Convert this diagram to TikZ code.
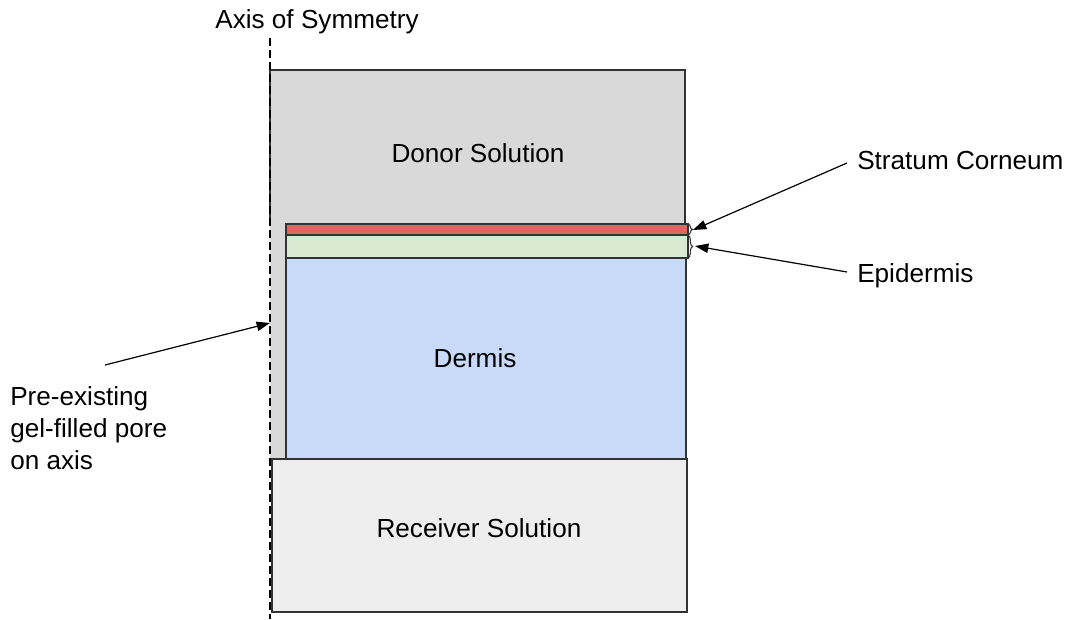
\documentclass[tikz,border=0pt]{standalone}
\usepackage{fontspec}
\setmainfont{Liberation Sans}
\usetikzlibrary{fit,arrows.meta,decorations.pathreplacing}
\definecolor{donorc}{HTML}{D9D9D9}
\definecolor{recvc}{HTML}{EEEEEE}
\definecolor{scc}{HTML}{E06666}
\definecolor{epic}{HTML}{D9EAD3}
\definecolor{dermc}{HTML}{C9DAF8}
\definecolor{edge}{HTML}{333333}
\begin{document}
\begin{tikzpicture}[x=0.75pt,y=-0.75pt,
  region/.style={inner sep=0pt, outer sep=0pt},
  boxed/.style={region, draw=edge, line width=1.1pt},
  lab/.style={font=\fontsize{19.6}{24}\selectfont, text=black},
  brc/.style={draw=edge, line width=0.8pt, decorate, decoration={brace, amplitude=3.5pt}},
  arr/.style={draw=black, line width=0.9pt, -{Triangle[length=10pt,width=7pt]}},
  axisline/.style={draw=black, line width=0.9pt, dash pattern=on 6pt off 3pt}]
\useasboundingbox (0,0) rectangle (1069,619);
% donor solution (border drawn separately, no left bottom edge)
\node[region, fill=donorc, fit={(270,70)(685,224)}] (donor) {};
\draw[edge, line width=1.1pt] (donor.south west) -- (donor.north west) -- (donor.north east) -- (donor.south east);
% gel-filled pore
\node[region, fill=donorc, fit={(270,224)(286,459)}] (pore) {};
% skin layers
\node[boxed, fill=scc, fit={(286,224)(688,235)}] (sc) {};
\node[boxed, fill=epic, fit={(286,235)(688,258)}] (epi) {};
\node[boxed, fill=dermc, fit={(286,258)(686,459)}] (dermis) {};
% receiver
\node[boxed, fill=recvc, fit={(272,459)(687,612)}] (receiver) {};
% region labels
\node[lab] (donorlab) at (478,153) {Donor Solution};
\node[lab] (dermlab) at (475,358) {Dermis};
\node[lab] (recvlab) at (479,528) {Receiver Solution};
% axis of symmetry
\coordinate (axtop) at (270,38);
\coordinate (axbot) at (270,619);
\draw[axisline] (axtop) -- (axbot);
\node[lab] (axislab) at (317,22) {Axis of Symmetry};
% braces
\draw[brc] (sc.north east) -- (sc.south east);
\draw[brc] (epi.north east) -- (epi.south east);
\coordinate (sctip) at (693,230);
\coordinate (epitip) at (695,246);
% side labels
\node[lab, anchor=west, inner sep=7.5pt] (sclab) at (847,160) {Stratum Corneum};
\node[lab, anchor=west, inner sep=7.5pt] (epilab) at (847,276) {Epidermis};
\node[lab, anchor=north west, align=left, inner sep=0pt] (porelab) at (10,386) {Pre-existing\\gel-filled pore\\on axis};
\coordinate (poretail) at (105,365);
\coordinate (porehead) at (270,323);
% arrows
\draw[arr] ([yshift=-2.25pt]sclab.west) -- (sctip);
\draw[arr] ([yshift=3pt]epilab.west) -- (epitip);
\draw[arr] (poretail) -- (porehead);
\end{tikzpicture}
\end{document}
